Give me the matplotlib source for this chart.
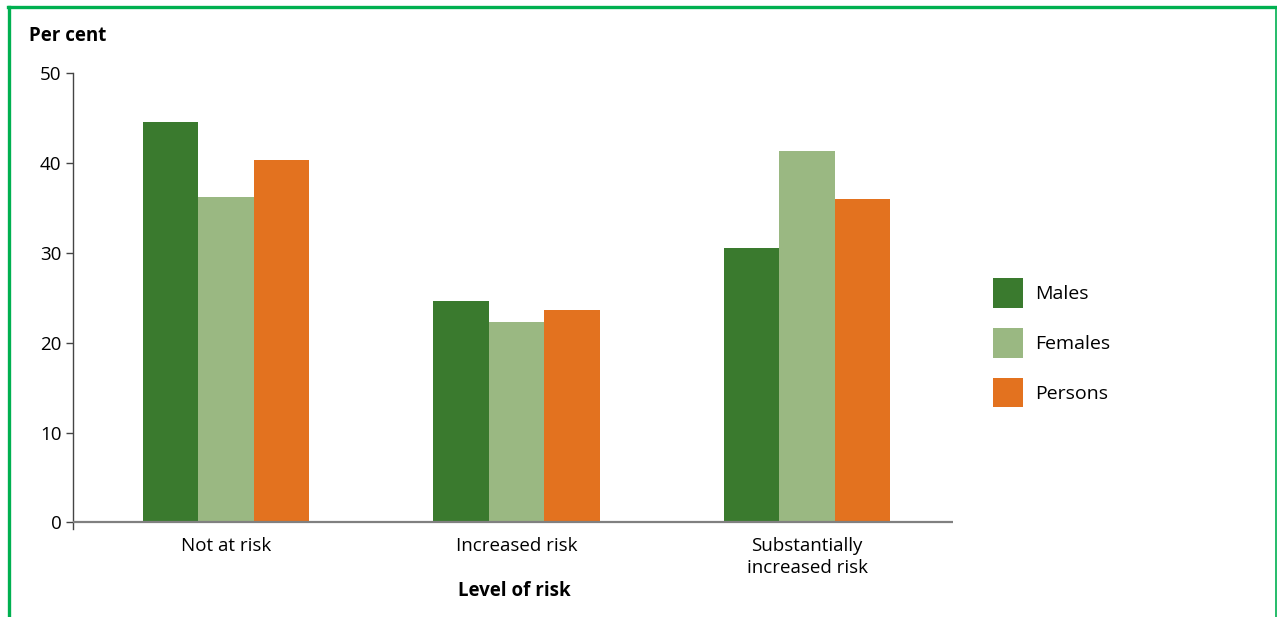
import matplotlib.pyplot as plt
import numpy as np
from matplotlib.lines import Line2D

plt.rcParams['font.family'] = ['Open Sans', 'DejaVu Sans']

categories = ['Not at risk', 'Increased risk', 'Substantially\nincreased risk']
series = ['Males', 'Females', 'Persons']
males = [44.6, 24.7, 30.6]
females = [36.2, 22.3, 41.4]
persons = [40.3, 23.6, 36.0]
colours = ['#3a7a2e', '#9ab882', '#e3721f']
yticks = [0, 10, 20, 30, 40, 50]

fig = plt.figure(figsize=(12.77, 6.17), dpi=100)
ax = fig.add_axes([0.0569, 0.1431, 0.689, 0.7381])

x = np.arange(len(categories))
w = 0.1905
for i, (vals, col, name) in enumerate(zip([males, females, persons], colours, series)):
    ax.bar(x + (i - 1) * w, vals, width=w, color=col, label=name, linewidth=0)

ax.set_xlim(-0.527, 2.5)
ax.set_ylim(-0.7, 50)
ax.axhline(0, color='#808080', linewidth=1.6, zorder=3)

for s in ['top', 'right', 'bottom']:
    ax.spines[s].set_visible(False)
ax.spines['left'].set_color('#444444')
ax.spines['left'].set_linewidth(1.0)

ax.set_yticks(yticks)
ax.set_yticklabels([str(t) for t in yticks], fontsize=13.5)
ax.tick_params(axis='y', length=5, width=1, color='#444444', pad=3)
ax.set_xticks(x)
ax.set_xticklabels(categories, fontsize=13.5, linespacing=1.3)
ax.tick_params(axis='x', length=0, pad=6)

fig.text(0.023, 0.942, 'Per cent', fontsize=13.5, fontweight='bold', va='center')
fig.text(0.403, 0.042, 'Level of risk', fontsize=13.5, fontweight='bold',
         ha='center', va='center')

ax.legend(loc='upper left', bbox_to_anchor=(1.035, 0.571), frameon=False,
          fontsize=14, borderpad=0, handlelength=1.55, handleheight=1.95,
          labelspacing=1.05, handletextpad=0.6)

# green frame around the figure panel
fig.add_artist(Line2D([0.0063, 0.9995], [0.9887, 0.9887], color='#00b050',
                      linewidth=2.4, transform=fig.transFigure))
fig.add_artist(Line2D([0.0072, 0.0072], [0.0, 0.9887], color='#00b050',
                      linewidth=2.4, transform=fig.transFigure))
fig.add_artist(Line2D([0.9992, 0.9992], [0.0, 0.9887], color='#00b050',
                      linewidth=1.2, transform=fig.transFigure))

fig.savefig('out.png', dpi=100)
